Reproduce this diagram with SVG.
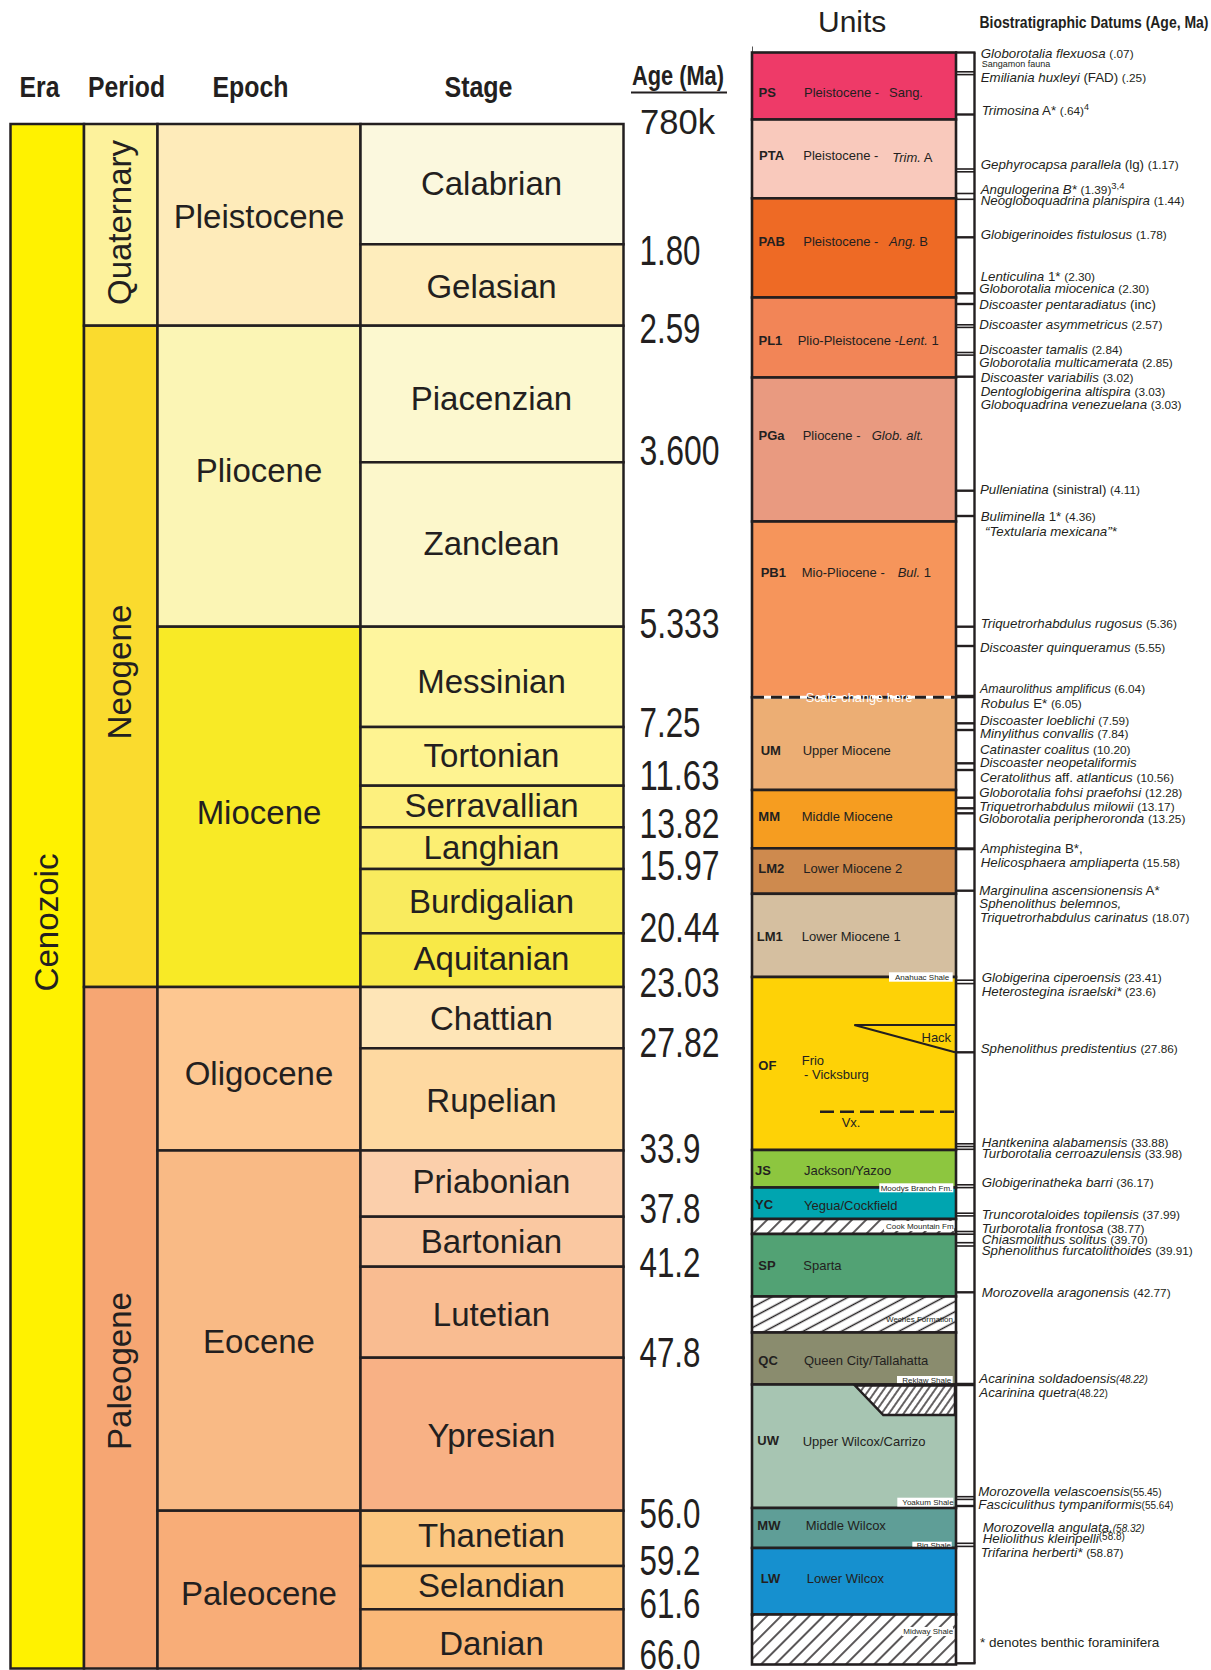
<svg xmlns="http://www.w3.org/2000/svg" width="1211" height="1670" viewBox="0 0 1211 1670">
<defs>
<style>
text{font-family:"Liberation Sans",Arial,Helvetica,sans-serif;fill:#231F20}
.cell{stroke:#231F20;stroke-width:2.5}
.hdr{font-weight:bold;font-size:29px}
.stg{font-size:33px;text-anchor:middle}
.per{font-size:34px;text-anchor:middle}
.age{font-size:42px}
.unit{stroke:#231F20;stroke-width:2.6}
.code{font-weight:bold;font-size:13px}
.desc{font-size:13px}
.lbl{font-size:8px}
.lblbox{fill:#fff}
.d{font-size:13.3px}
.i{font-style:italic}
.n{font-size:11.8px;font-style:normal}
.s{font-size:10px}
.tick{stroke:#231F20;stroke-width:2.4}
.tk2{stroke:#231F20;stroke-width:1.6}
.wt{fill:#fff}
</style>
<pattern id="hatch" patternUnits="userSpaceOnUse" width="10" height="10" patternTransform="rotate(45)">
<rect width="10" height="10" fill="#fff"/>
<line x1="5" y1="0" x2="5" y2="10" stroke="#231F20" stroke-width="1.5"/>
</pattern>
<pattern id="hatchW" patternUnits="userSpaceOnUse" width="9" height="10" patternTransform="rotate(62)">
<rect width="9" height="10" fill="#fff"/>
<line x1="4.5" y1="0" x2="4.5" y2="10" stroke="#231F20" stroke-width="1.5"/>
</pattern>
<pattern id="hatchF" patternUnits="userSpaceOnUse" width="6" height="10" patternTransform="rotate(35)">
<rect width="6" height="10" fill="#fff"/>
<line x1="3" y1="0" x2="3" y2="10" stroke="#231F20" stroke-width="1.4"/>
</pattern>
</defs>

<!-- Headers -->
<g id="headers">
<text class="hdr" x="19.5" y="96.5" textLength="40" lengthAdjust="spacingAndGlyphs">Era</text>
<text class="hdr" x="88" y="96.5" textLength="77" lengthAdjust="spacingAndGlyphs">Period</text>
<text class="hdr" x="212.5" y="96.5" textLength="76" lengthAdjust="spacingAndGlyphs">Epoch</text>
<text class="hdr" x="444.5" y="96.5" textLength="68" lengthAdjust="spacingAndGlyphs">Stage</text>
<text x="632" y="85" font-weight="bold" font-size="28" textLength="92" lengthAdjust="spacingAndGlyphs">Age (Ma)</text>
<line x1="631" y1="92.5" x2="727" y2="92.5" stroke="#231F20" stroke-width="2"/>
<text x="818" y="31.7" font-size="30">Units</text>
<text x="979.5" y="28" font-weight="bold" font-size="17" textLength="229" lengthAdjust="spacingAndGlyphs">Biostratigraphic Datums (Age, Ma)</text>
</g>

<!-- Era -->
<g id="era-cenozoic">
<rect class="cell" x="10.5" y="124" width="73.5" height="1544.5" fill="#FFF200"/>
<text class="per" transform="translate(57.5,922.5) rotate(-90)" font-size="35" textLength="138" lengthAdjust="spacingAndGlyphs">Cenozoic</text>
</g>

<!-- Periods -->
<g id="period-quaternary">
<rect class="cell" x="84" y="124" width="73.5" height="201.7" fill="#FDF29C"/>
<text class="per" transform="translate(131,222.5) rotate(-90)" textLength="165" lengthAdjust="spacingAndGlyphs">Quaternary</text>
</g>
<g id="period-neogene">
<rect class="cell" x="84" y="325.7" width="73.5" height="661.3" fill="#FADB2E"/>
<text class="per" transform="translate(131,672) rotate(-90)" textLength="135" lengthAdjust="spacingAndGlyphs">Neogene</text>
</g>
<g id="period-paleogene">
<rect class="cell" x="84" y="987" width="73.5" height="681.5" fill="#F6A673"/>
<text class="per" transform="translate(131,1371) rotate(-90)" textLength="158" lengthAdjust="spacingAndGlyphs">Paleogene</text>
</g>

<!-- Epochs -->
<g id="epoch-pleistocene"><rect class="cell" x="157.5" y="124" width="203" height="201.7" fill="#FEEBBA"/><text class="stg" x="259" y="227.7">Pleistocene</text></g>
<g id="epoch-pliocene"><rect class="cell" x="157.5" y="325.7" width="203" height="301" fill="#FBF5B5"/><text class="stg" x="259" y="481.7">Pliocene</text></g>
<g id="epoch-miocene"><rect class="cell" x="157.5" y="626.7" width="203" height="360.3" fill="#F8EA26"/><text class="stg" x="259" y="824">Miocene</text></g>
<g id="epoch-oligocene"><rect class="cell" x="157.5" y="987" width="203" height="163.5" fill="#FDC791"/><text class="stg" x="259" y="1085">Oligocene</text></g>
<g id="epoch-eocene"><rect class="cell" x="157.5" y="1150.5" width="203" height="360.2" fill="#F9BA85"/><text class="stg" x="259" y="1352.7">Eocene</text></g>
<g id="epoch-paleocene"><rect class="cell" x="157.5" y="1510.7" width="203" height="157.8" fill="#F8AD78"/><text class="stg" x="259" y="1605">Paleocene</text></g>

<!-- Stages -->
<g id="stage-calabrian"><rect class="cell" x="360.5" y="124" width="263" height="120.3" fill="#FBF8DE"/><text class="stg" x="491.5" y="195">Calabrian</text></g>
<g id="stage-gelasian"><rect class="cell" x="360.5" y="244.3" width="263" height="81.4" fill="#FEEDBC"/><text class="stg" x="491.5" y="298.3">Gelasian</text></g>
<g id="stage-piacenzian"><rect class="cell" x="360.5" y="325.7" width="263" height="136.6" fill="#FCF8CF"/><text class="stg" x="491.5" y="410">Piacenzian</text></g>
<g id="stage-zanclean"><rect class="cell" x="360.5" y="462.3" width="263" height="164.4" fill="#FCF7CB"/><text class="stg" x="491.5" y="555">Zanclean</text></g>
<g id="stage-messinian"><rect class="cell" x="360.5" y="626.7" width="263" height="100.3" fill="#FEF59E"/><text class="stg" x="491.5" y="692.7">Messinian</text></g>
<g id="stage-tortonian"><rect class="cell" x="360.5" y="727" width="263" height="58.7" fill="#FEF391"/><text class="stg" x="491.5" y="766.7">Tortonian</text></g>
<g id="stage-serravallian"><rect class="cell" x="360.5" y="785.7" width="263" height="41.6" fill="#FDF07E"/><text class="stg" x="491.5" y="816.7">Serravallian</text></g>
<g id="stage-langhian"><rect class="cell" x="360.5" y="827.3" width="263" height="41.7" fill="#FCEE72"/><text class="stg" x="491.5" y="859.3">Langhian</text></g>
<g id="stage-burdigalian"><rect class="cell" x="360.5" y="869" width="263" height="64.3" fill="#F9EB5E"/><text class="stg" x="491.5" y="912.7">Burdigalian</text></g>
<g id="stage-aquitanian"><rect class="cell" x="360.5" y="933.3" width="263" height="53.7" fill="#F8E947"/><text class="stg" x="491.5" y="970">Aquitanian</text></g>
<g id="stage-chattian"><rect class="cell" x="360.5" y="987" width="263" height="61.3" fill="#FEE5B7"/><text class="stg" x="491.5" y="1030">Chattian</text></g>
<g id="stage-rupelian"><rect class="cell" x="360.5" y="1048.3" width="263" height="102.2" fill="#FED9A1"/><text class="stg" x="491.5" y="1111.7">Rupelian</text></g>
<g id="stage-priabonian"><rect class="cell" x="360.5" y="1150.5" width="263" height="66.2" fill="#FBCFAB"/><text class="stg" x="491.5" y="1192.7">Priabonian</text></g>
<g id="stage-bartonian"><rect class="cell" x="360.5" y="1216.7" width="263" height="50" fill="#FAC8A1"/><text class="stg" x="491.5" y="1253.3">Bartonian</text></g>
<g id="stage-lutetian"><rect class="cell" x="360.5" y="1266.7" width="263" height="91" fill="#F9BC91"/><text class="stg" x="491.5" y="1325.7">Lutetian</text></g>
<g id="stage-ypresian"><rect class="cell" x="360.5" y="1357.7" width="263" height="153" fill="#F8B185"/><text class="stg" x="491.5" y="1447.3">Ypresian</text></g>
<g id="stage-thanetian"><rect class="cell" x="360.5" y="1510.7" width="263" height="55.3" fill="#FBC680"/><text class="stg" x="491.5" y="1546.7">Thanetian</text></g>
<g id="stage-selandian"><rect class="cell" x="360.5" y="1566" width="263" height="43.3" fill="#FBC47B"/><text class="stg" x="491.5" y="1596.7">Selandian</text></g>
<g id="stage-danian"><rect class="cell" x="360.5" y="1609.3" width="263" height="59.2" fill="#FAB878"/><text class="stg" x="491.5" y="1655">Danian</text></g>

<!-- Ages -->
<g id="ages">
<text x="640" y="134" font-size="35" textLength="75" lengthAdjust="spacingAndGlyphs">780k</text>
<text class="age" x="639.5" y="265" textLength="61" lengthAdjust="spacingAndGlyphs">1.80</text>
<text class="age" x="639.5" y="343.3" textLength="61" lengthAdjust="spacingAndGlyphs">2.59</text>
<text class="age" x="639.5" y="465" textLength="80" lengthAdjust="spacingAndGlyphs">3.600</text>
<text class="age" x="639.5" y="638.3" textLength="80" lengthAdjust="spacingAndGlyphs">5.333</text>
<text class="age" x="639.5" y="737.3" textLength="61" lengthAdjust="spacingAndGlyphs">7.25</text>
<text class="age" x="639.5" y="790" textLength="80" lengthAdjust="spacingAndGlyphs">11.63</text>
<text class="age" x="639.5" y="838.3" textLength="80" lengthAdjust="spacingAndGlyphs">13.82</text>
<text class="age" x="639.5" y="880" textLength="80" lengthAdjust="spacingAndGlyphs">15.97</text>
<text class="age" x="639.5" y="941.7" textLength="80" lengthAdjust="spacingAndGlyphs">20.44</text>
<text class="age" x="639.5" y="996.7" textLength="80" lengthAdjust="spacingAndGlyphs">23.03</text>
<text class="age" x="639.5" y="1056.7" textLength="80" lengthAdjust="spacingAndGlyphs">27.82</text>
<text class="age" x="639.5" y="1163.3" textLength="61" lengthAdjust="spacingAndGlyphs">33.9</text>
<text class="age" x="639.5" y="1223.3" textLength="61" lengthAdjust="spacingAndGlyphs">37.8</text>
<text class="age" x="639.5" y="1276.7" textLength="61" lengthAdjust="spacingAndGlyphs">41.2</text>
<text class="age" x="639.5" y="1366.7" textLength="61" lengthAdjust="spacingAndGlyphs">47.8</text>
<text class="age" x="639.5" y="1528.3" textLength="61" lengthAdjust="spacingAndGlyphs">56.0</text>
<text class="age" x="639.5" y="1575" textLength="61" lengthAdjust="spacingAndGlyphs">59.2</text>
<text class="age" x="639.5" y="1618.3" textLength="61" lengthAdjust="spacingAndGlyphs">61.6</text>
<text class="age" x="639.5" y="1669" textLength="61" lengthAdjust="spacingAndGlyphs">66.0</text>
</g>

<!-- Units -->
<line x1="752.5" y1="46.5" x2="752.5" y2="52.5" stroke="#555" stroke-width="1"/>
<g id="unit-PS"><rect class="unit" x="752" y="52.5" width="204" height="67" fill="#EE3A68"/><text class="code" x="758.5" y="96.7">PS</text><text class="desc" x="804" y="96.7">Pleistocene -</text><text class="desc" x="889" y="96.7">Sang.</text></g>
<g id="unit-PTA"><rect class="unit" x="752" y="119.5" width="204" height="78.8" fill="#F9C9BC"/><text class="code" x="759" y="160">PTA</text><text class="desc" x="803.3" y="160">Pleistocene -</text><text class="desc" x="892.3" y="161.7"><tspan class="i">Trim.</tspan> A</text></g>
<g id="unit-PAB"><rect class="unit" x="752" y="198.3" width="204" height="99.2" fill="#EE6A25"/><text class="code" x="758.5" y="246">PAB</text><text class="desc" x="803.3" y="246">Pleistocene -</text><text class="desc" x="889" y="246"><tspan class="i">Ang.</tspan> B</text></g>
<g id="unit-PL1"><rect class="unit" x="752" y="297.5" width="204" height="80" fill="#F28557"/><text class="code" x="758.5" y="345">PL1</text><text class="desc" x="797.7" y="345">Plio-Pleistocene -<tspan class="i">Lent.</tspan> 1</text></g>
<g id="unit-PGa"><rect class="unit" x="752" y="377.5" width="204" height="144" fill="#E99A80"/><text class="code" x="758.5" y="440">PGa</text><text class="desc" x="802.7" y="440">Pliocene -</text><text class="desc i" x="871.7" y="440">Glob. alt.</text></g>
<g id="unit-PB1"><rect class="unit" x="752" y="521.5" width="204" height="175.8" fill="#F6955B"/><text class="code" x="760.7" y="577.3">PB1</text><text class="desc" x="801.7" y="577.3">Mio-Pliocene -</text><text class="desc" x="897.7" y="577.3"><tspan class="i">Bul.</tspan> 1</text></g>
<g id="unit-UM"><rect class="unit" x="752" y="697.3" width="204" height="92.7" fill="#ECAE74"/><text class="code" x="760.7" y="755">UM</text><text class="desc" x="802.7" y="755">Upper Miocene</text></g>
<g id="scale-change">
<line x1="753" y1="697.3" x2="955" y2="697.3" stroke="#fff" stroke-width="3"/>
<line x1="753" y1="697.3" x2="955" y2="697.3" stroke="#231F20" stroke-width="3" stroke-dasharray="11 7"/>
<text class="wt" x="805.7" y="702" font-size="12.8">Scale change here</text>
</g>
<g id="unit-MM"><rect class="unit" x="752" y="790" width="204" height="58.3" fill="#F69D20"/><text class="code" x="758.3" y="821">MM</text><text class="desc" x="801.7" y="821">Middle Miocene</text></g>
<g id="unit-LM2"><rect class="unit" x="752" y="848.3" width="204" height="45.5" fill="#CE8A4E"/><text class="code" x="758.3" y="873.3">LM2</text><text class="desc" x="803.3" y="873.3">Lower Miocene 2</text></g>
<g id="unit-LM1"><rect class="unit" x="752" y="893.8" width="204" height="83.2" fill="#D5BFA0"/><text class="code" x="756.7" y="941">LM1</text><text class="desc" x="801.7" y="941">Lower Miocene 1</text></g>
<g id="unit-OF"><rect class="unit" x="752" y="977" width="204" height="173" fill="#FED206"/>
<rect class="lblbox" x="889" y="972.3" width="63.7" height="9.4"/><text class="lbl" x="895" y="980">Anahuac Shale</text>
<polyline points="955,1025 854.3,1025 955,1052.3" fill="none" stroke="#231F20" stroke-width="2"/>
<text class="desc" x="921.5" y="1042.3">Hack</text>
<text class="code" x="758.3" y="1070">OF</text>
<text class="desc" x="801.7" y="1065">Frio</text>
<text class="desc" x="804" y="1079.3">- Vicksburg</text>
<line x1="820" y1="1111.7" x2="955" y2="1111.7" stroke="#231F20" stroke-width="2.5" stroke-dasharray="14 6"/>
<text class="desc" x="841.7" y="1126.7">Vx.</text>
</g>
<g id="unit-JS"><rect class="unit" x="752" y="1150" width="204" height="37.5" fill="#8DC63F"/><text class="code" x="755" y="1175">JS</text><text class="desc" x="804" y="1175">Jackson/Yazoo</text></g>
<g id="unit-YC"><rect class="unit" x="752" y="1187.5" width="204" height="31.5" fill="#00A5B0"/><text class="code" x="755" y="1209.3">YC</text><text class="desc" x="804" y="1210">Yegua/Cockfield</text></g>
<g id="label-moodys"><rect class="lblbox" x="879.3" y="1183.3" width="74" height="9"/><text class="lbl" x="880.7" y="1190.7">Moodys Branch Fm.</text></g>
<g id="unit-cook"><rect class="unit" x="752" y="1219" width="204" height="15" fill="url(#hatch)"/><rect class="lblbox" x="884" y="1221" width="70" height="10"/><text class="lbl" x="886" y="1229">Cook Mountain Fm.</text></g>
<g id="unit-SP"><rect class="unit" x="752" y="1234" width="204" height="62.5" fill="#52A274"/><text class="code" x="758.3" y="1270">SP</text><text class="desc" x="803.3" y="1270">Sparta</text></g>
<g id="unit-weches"><rect class="unit" x="752" y="1296.5" width="204" height="36" fill="url(#hatchW)"/><text class="lbl" x="886" y="1322.3">Weches Formation</text></g>
<g id="unit-QC"><rect class="unit" x="752" y="1332.5" width="204" height="52" fill="#8A8C6E"/><text class="code" x="758.3" y="1365">QC</text><text class="desc" x="804" y="1365">Queen City/Tallahatta</text>
<rect class="lblbox" x="897" y="1376" width="55.7" height="7.3"/><text class="lbl" x="902.3" y="1382.8">Reklaw Shale</text></g>
<g id="unit-UW"><rect class="unit" x="752" y="1384.5" width="204" height="123.5" fill="#A7C5B2"/>
<polygon points="855,1385.5 955,1385.5 955,1415 883.3,1415" fill="url(#hatchF)" stroke="#231F20" stroke-width="2.5"/>
<text class="code" x="757.3" y="1445">UW</text><text class="desc" x="802.7" y="1446">Upper Wilcox/Carrizo</text>
<rect class="lblbox" x="897.3" y="1497.7" width="56" height="9.6"/><text class="lbl" x="902.3" y="1505">Yoakum Shale</text></g>
<g id="unit-MW"><rect class="unit" x="752" y="1508" width="204" height="40" fill="#5F9E97"/><text class="code" x="757.3" y="1530">MW</text><text class="desc" x="805.7" y="1530">Middle Wilcox</text>
<rect class="lblbox" x="912.3" y="1541.7" width="39.4" height="7.3"/><text class="lbl" x="916.7" y="1547.8">Big Shale</text></g>
<g id="unit-LW"><rect class="unit" x="752" y="1548" width="204" height="66.5" fill="#1690CF"/><text class="code" x="760.7" y="1582.7">LW</text><text class="desc" x="806.7" y="1582.7">Lower Wilcox</text></g>
<g id="unit-midway"><rect class="unit" x="752" y="1614.5" width="204" height="50" fill="url(#hatch)"/><rect class="lblbox" x="902" y="1627" width="51" height="9"/><text class="lbl" x="903.3" y="1634.3">Midway Shale</text></g>

<!-- Bracket column / datum ticks -->
<g id="connectors">
<line class="tick" x1="974.5" y1="52.5" x2="974.5" y2="1663.5"/>
<line class="tick" x1="955" y1="52.5" x2="975.5" y2="52.5"/>
<line class="tk2" x1="956" y1="71.8" x2="975" y2="71.8"/><line class="tk2" x1="956" y1="74.6" x2="975" y2="74.6"/>
<line class="tick" x1="956" y1="114.5" x2="975" y2="114.5"/>
<line class="tk2" x1="956" y1="169" x2="975" y2="169"/><line class="tk2" x1="956" y1="171.8" x2="975" y2="171.8"/>
<line class="tk2" x1="956" y1="193.5" x2="975" y2="193.5"/><line class="tk2" x1="956" y1="199.3" x2="975" y2="199.3"/>
<line class="tick" x1="956" y1="237.3" x2="975" y2="237.3"/>
<line class="tick" x1="956" y1="293.3" x2="975" y2="293.3"/>
<line class="tick" x1="956" y1="304" x2="975" y2="304"/>
<line class="tk2" x1="956" y1="324.8" x2="975" y2="324.8"/><line class="tk2" x1="956" y1="327.4" x2="975" y2="327.4"/>
<line class="tk2" x1="956" y1="352.5" x2="975" y2="352.5"/><line class="tk2" x1="956" y1="355.1" x2="975" y2="355.1"/>
<line class="tick" x1="956" y1="376.7" x2="975" y2="376.7"/>
<line class="tick" x1="956" y1="490.7" x2="975" y2="490.7"/>
<line class="tick" x1="956" y1="516" x2="975" y2="516"/>
<line class="tick" x1="956" y1="626.7" x2="975" y2="626.7"/>
<line class="tick" x1="956" y1="646" x2="975" y2="646"/>
<line x1="956" y1="696.5" x2="975" y2="696.5" stroke="#231F20" stroke-width="3.5"/>
<line class="tick" x1="956" y1="723.3" x2="975" y2="723.3"/>
<line class="tick" x1="956" y1="730" x2="975" y2="730"/>
<line class="tick" x1="956" y1="763.3" x2="975" y2="763.3"/>
<line class="tick" x1="956" y1="770" x2="975" y2="770"/>
<line class="tick" x1="956" y1="797.7" x2="975" y2="797.7"/>
<line class="tick" x1="956" y1="808.3" x2="975" y2="808.3"/>
<line class="tick" x1="956" y1="813.3" x2="975" y2="813.3"/>
<line x1="956" y1="848.8" x2="975" y2="848.8" stroke="#231F20" stroke-width="3"/>
<line class="tick" x1="956" y1="890.7" x2="975" y2="890.7"/>
<line class="tk2" x1="956" y1="980.2" x2="975" y2="980.2"/><line class="tk2" x1="956" y1="983.6" x2="975" y2="983.6"/>
<line class="tick" x1="956" y1="1052.3" x2="975" y2="1052.3"/>
<line class="tk2" x1="956" y1="1143.8" x2="975" y2="1143.8"/><line class="tk2" x1="956" y1="1146.5" x2="975" y2="1146.5"/><line class="tk2" x1="956" y1="1149.3" x2="975" y2="1149.3"/>
<line class="tk2" x1="956" y1="1184.8" x2="975" y2="1184.8"/><line class="tk2" x1="956" y1="1187.6" x2="975" y2="1187.6"/>
<line class="tk2" x1="956" y1="1213.2" x2="975" y2="1213.2"/><line class="tk2" x1="956" y1="1215.9" x2="975" y2="1215.9"/>
<line class="tk2" x1="956" y1="1231.5" x2="975" y2="1231.5"/><line class="tk2" x1="956" y1="1234.2" x2="975" y2="1234.2"/>
<line class="tk2" x1="956" y1="1242.7" x2="975" y2="1242.7"/><line class="tk2" x1="956" y1="1246" x2="975" y2="1246"/>
<line class="tick" x1="956" y1="1292.3" x2="975" y2="1292.3"/>
<line x1="956" y1="1384.5" x2="975" y2="1384.5" stroke="#231F20" stroke-width="3.5"/>
<line class="tk2" x1="956" y1="1496.7" x2="975" y2="1496.7"/><line class="tk2" x1="956" y1="1499.4" x2="975" y2="1499.4"/>
<line class="tick" x1="956" y1="1506" x2="975" y2="1506"/>
<line class="tk2" x1="956" y1="1543.3" x2="975" y2="1543.3"/><line class="tk2" x1="956" y1="1546.4" x2="975" y2="1546.4"/>
<line class="tick" x1="955" y1="1663.3" x2="975.5" y2="1663.3"/>
</g>

<!-- Datums -->
<g id="datums" class="d">
<text class="d" x="980.7" y="58.3"><tspan class="i">Globorotalia flexuosa</tspan> <tspan class="n">(.07)</tspan></text>
<text x="981.7" y="66.7" font-size="9">Sangamon fauna</text>
<text class="d" x="980.7" y="81.7"><tspan class="i">Emiliania huxleyi</tspan> (FAD) <tspan class="n">(.25)</tspan></text>
<text class="d" x="981.7" y="115"><tspan class="i">Trimosina</tspan> A* <tspan class="n">(.64)</tspan><tspan font-size="9" dy="-5">4</tspan></text>
<text class="d" x="980.7" y="169.3"><tspan class="i">Gephyrocapsa parallela</tspan> (lg) <tspan class="n">(1.17)</tspan></text>
<text class="d" x="980.7" y="194.3"><tspan class="i">Angulogerina B*</tspan> <tspan class="n">(1.39)</tspan><tspan font-size="9.5" dy="-5">3,4</tspan></text>
<text class="d" x="980.7" y="205"><tspan class="i">Neogloboquadrina planispira</tspan> <tspan class="n">(1.44)</tspan></text>
<text class="d" x="980.7" y="239"><tspan class="i">Globigerinoides fistulosus</tspan> <tspan class="n">(1.78)</tspan></text>
<text class="d" x="980.7" y="280.7"><tspan class="i">Lenticulina</tspan> 1* <tspan class="n">(2.30)</tspan></text>
<text class="d" x="979.3" y="293.3"><tspan class="i">Globorotalia miocenica</tspan> <tspan class="n">(2.30)</tspan></text>
<text class="d" x="979.3" y="309.3"><tspan class="i">Discoaster pentaradiatus</tspan> (inc)</text>
<text class="d" x="979.3" y="329.3"><tspan class="i">Discoaster asymmetricus</tspan> <tspan class="n">(2.57)</tspan></text>
<text class="d" x="979.3" y="354"><tspan class="i">Discoaster tamalis</tspan> <tspan class="n">(2.84)</tspan></text>
<text class="d" x="979.3" y="367.3"><tspan class="i">Globorotalia multicamerata</tspan> <tspan class="n">(2.85)</tspan></text>
<text class="d" x="980.7" y="381.7"><tspan class="i">Discoaster variabilis</tspan> <tspan class="n">(3.02)</tspan></text>
<text class="d" x="980.7" y="396"><tspan class="i">Dentoglobigerina altispira</tspan> <tspan class="n">(3.03)</tspan></text>
<text class="d" x="980.7" y="409.3"><tspan class="i">Globoquadrina venezuelana</tspan> <tspan class="n">(3.03)</tspan></text>
<text class="d" x="980" y="494"><tspan class="i">Pulleniatina</tspan> (sinistral) <tspan class="n">(4.11)</tspan></text>
<text class="d" x="980.7" y="521"><tspan class="i">Buliminella</tspan> 1* <tspan class="n">(4.36)</tspan></text>
<text class="d i" x="985" y="535.7">“Textularia mexicana”*</text>
<text class="d" x="980.7" y="628.3"><tspan class="i">Triquetrorhabdulus rugosus</tspan> <tspan class="n">(5.36)</tspan></text>
<text class="d" x="980" y="652.3"><tspan class="i">Discoaster quinqueramus</tspan> <tspan class="n">(5.55)</tspan></text>
<text x="980" y="692.7" font-size="12.4"><tspan class="i">Amaurolithus amplificus</tspan> <tspan class="n">(6.04)</tspan></text>
<text class="d" x="980.7" y="708.3"><tspan class="i">Robulus</tspan> E* <tspan class="n">(6.05)</tspan></text>
<text class="d" x="980" y="725"><tspan class="i">Discoaster loeblichi</tspan> <tspan class="n">(7.59)</tspan></text>
<text class="d" x="980" y="738.3"><tspan class="i">Minylithus convallis</tspan> <tspan class="n">(7.84)</tspan></text>
<text class="d" x="980" y="754.3"><tspan class="i">Catinaster coalitus</tspan> <tspan class="n">(10.20)</tspan></text>
<text class="d i" x="980" y="766.7">Discoaster neopetaliformis</text>
<text class="d" x="980" y="781.7"><tspan class="i">Ceratolithus</tspan> aff. <tspan class="i">atlanticus</tspan> <tspan class="n">(10.56)</tspan></text>
<text class="d" x="979.3" y="797.3"><tspan class="i">Globorotalia fohsi praefohsi</tspan> <tspan class="n">(12.28)</tspan></text>
<text class="d" x="979.3" y="810.7"><tspan class="i">Triquetrorhabdulus milowii</tspan> <tspan class="n">(13.17)</tspan></text>
<text class="d" x="978.7" y="823.3"><tspan class="i">Globorotalia peripheroronda</tspan> <tspan class="n">(13.25)</tspan></text>
<text class="d" x="980.7" y="853.3"><tspan class="i">Amphistegina</tspan> B*,</text>
<text class="d" x="980.7" y="866.7"><tspan class="i">Helicosphaera ampliaperta</tspan> <tspan class="n">(15.58)</tspan></text>
<text class="d" x="979.3" y="895"><tspan class="i">Marginulina ascensionensis</tspan> A*</text>
<text class="d i" x="979.3" y="908.3">Sphenolithus belemnos,</text>
<text class="d" x="980" y="921.7"><tspan class="i">Triquetrorhabdulus carinatus</tspan> <tspan class="n">(18.07)</tspan></text>
<text class="d" x="981.7" y="981.7"><tspan class="i">Globigerina ciperoensis</tspan> <tspan class="n">(23.41)</tspan></text>
<text class="d" x="981.7" y="995.7"><tspan class="i">Heterostegina israelski*</tspan> <tspan class="n">(23.6)</tspan></text>
<text class="d" x="980.7" y="1052.7"><tspan class="i">Sphenolithus predistentius</tspan> <tspan class="n">(27.86)</tspan></text>
<text class="d" x="981.7" y="1146.7"><tspan class="i">Hantkenina alabamensis</tspan> <tspan class="n">(33.88)</tspan></text>
<text class="d" x="981.7" y="1158.3"><tspan class="i">Turborotalia cerroazulensis</tspan> <tspan class="n">(33.98)</tspan></text>
<text class="d" x="981.7" y="1186.7"><tspan class="i">Globigerinatheka barri</tspan> <tspan class="n">(36.17)</tspan></text>
<text class="d" x="981.7" y="1219.3"><tspan class="i">Truncorotaloides topilensis</tspan> <tspan class="n">(37.99)</tspan></text>
<text class="d" x="981.7" y="1233.3"><tspan class="i">Turborotalia frontosa</tspan> <tspan class="n">(38.77)</tspan></text>
<text class="d" x="981.7" y="1244"><tspan class="i">Chiasmolithus solitus</tspan> <tspan class="n">(39.70)</tspan></text>
<text class="d" x="981.7" y="1255"><tspan class="i">Sphenolithus furcatolithoides</tspan> <tspan class="n">(39.91)</tspan></text>
<text class="d" x="981.7" y="1297.3"><tspan class="i">Morozovella aragonensis</tspan> <tspan class="n">(42.77)</tspan></text>
<text class="d i" x="979.3" y="1383.3">Acarinina soldadoensis<tspan class="s">(48.22)</tspan></text>
<text class="d" x="979.3" y="1396.7"><tspan class="i">Acarinina quetra</tspan><tspan class="n s">(48.22)</tspan></text>
<text class="d" x="978.3" y="1496"><tspan class="i">Morozovella velascoensis</tspan><tspan class="n s">(55.45)</tspan></text>
<text class="d" x="978.3" y="1509.3"><tspan class="i">Fasciculithus tympaniformis</tspan><tspan class="n s">(55.64)</tspan></text>
<text class="d i" x="982.7" y="1531.7">Morozovella angulata,<tspan class="s">(58.32)</tspan></text>
<text class="d" x="982.7" y="1543.3"><tspan class="i">Heliolithus kleinpelli</tspan><tspan class="n s" dy="-3">(58.8)</tspan></text>
<text class="d" x="980.7" y="1557.3"><tspan class="i">Trifarina herberti*</tspan> <tspan class="n">(58.87)</tspan></text>
<text x="980" y="1647.3" font-size="13.5">* denotes benthic foraminifera</text>
</g>
</svg>
